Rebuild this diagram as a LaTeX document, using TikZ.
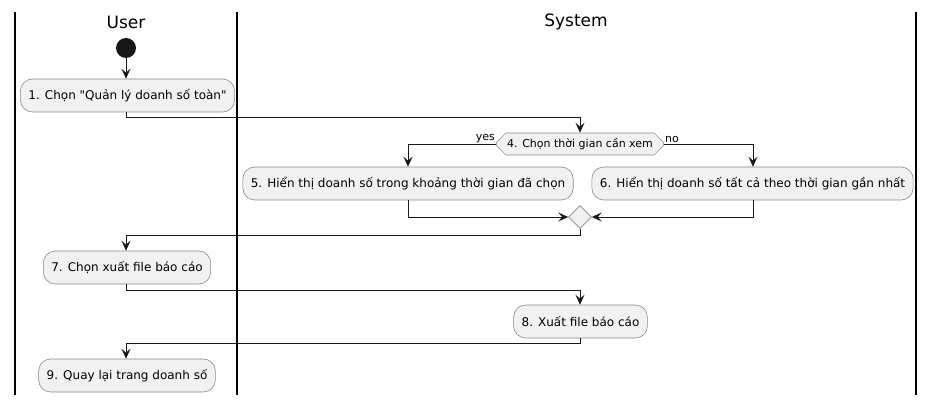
\documentclass[tikz,border=0pt]{standalone}
\usepackage{fontspec}
\setmainfont{DejaVu Sans}
\usetikzlibrary{arrows.meta,shapes.geometric,shapes.misc}
\definecolor{boxfill}{HTML}{F1F1F1}
\definecolor{boxline}{HTML}{888888}
\definecolor{ink}{HTML}{181818}
\begin{document}
\begin{tikzpicture}[x=1pt,y=-1pt,
  act/.style={draw=boxline,fill=boxfill,rounded corners=12pt,minimum height=33pt,inner xsep=8pt,font=\fontsize{12}{14}\selectfont,line width=0.6pt},
  dec/.style={draw=boxline,fill=boxfill,chamfered rectangle,chamfered rectangle xsep=11pt,chamfered rectangle angle=45,minimum height=22pt,inner xsep=5pt,inner ysep=0pt,font=\fontsize{11}{13}\selectfont,line width=0.6pt},
  merge/.style={draw=boxline,fill=boxfill,diamond,minimum width=23pt,minimum height=23pt,inner sep=0pt,line width=0.6pt},
  flow/.style={draw=ink,line width=0.9pt,-{Stealth[length=10pt,width=9pt,inset=4pt]}},
  lane/.style={draw=black,line width=1.4pt},
  lanetitle/.style={font=\fontsize{17}{20}\selectfont},
  lbl/.style={font=\fontsize{11}{13}\selectfont,inner sep=1pt}
]
\useasboundingbox (0,0) rectangle (934,403);
\draw[lane] (15,12) -- (15,395);
\draw[lane] (237,12) -- (237,395);
\draw[lane] (916,12) -- (916,395);
\node[lanetitle] (tuser) at (126,22) {User};
\node[lanetitle] (tsys) at (576,22) {System};

\node[circle,fill=ink,minimum size=20pt,inner sep=0pt] (start) at (126,48) {};
\node[act] (a1) at (127.5,95.5) {1. Chọn \textquotedbl Quản lý doanh số toàn\textquotedbl};
\node[dec] (d4) at (580,144) {4. Chọn thời gian cần xem};
\node[act] (a5) at (408,183.5) {5. Hiển thị doanh số trong khoảng thời gian đã chọn};
\node[act] (a6) at (752.5,183.5) {6. Hiển thị doanh số tất cả theo thời gian gần nhất};
\node[merge] (m) at (580,217) {};
\node[act] (a7) at (127,267.5) {7. Chọn xuất file báo cáo};
\node[act] (a8) at (580.5,321.5) {8. Xuất file báo cáo};
\node[act] (a9) at (127,375.5) {9. Quay lại trang doanh số};

\coordinate (c1) at (126,117);
\coordinate (c2) at (580,117);
\coordinate (c3) at (408,144);
\coordinate (c4) at (753,144);
\coordinate (c5) at (408,217);
\coordinate (c6) at (753,217);
\coordinate (c7) at (580,235);
\coordinate (c8) at (126,235);
\coordinate (c9) at (126,290);
\coordinate (c10) at (580,290);
\coordinate (c11) at (580,343);
\coordinate (c12) at (126,343);

\draw[flow] (start) -- (a1.north -| start);
\draw[flow] (a1.south -| c1) -- (c1) -- (c2) -- (d4.north);
\draw[flow] (d4.west) -- (c3) -- (a5.north -| c3);
\draw[flow] (d4.east) -- (c4) -- (a6.north -| c4);
\node[lbl,anchor=south east] (lyes) at (d4.west) {yes};
\node[lbl,anchor=south west] (lno) at (d4.east) {no};
\draw[flow] (a5.south -| c5) -- (c5) -- (m.west);
\draw[flow] (a6.south -| c6) -- (c6) -- (m.east);
\draw[flow] (m.south) -- (c7) -- (c8) -- (a7.north -| c8);
\draw[flow] (a7.south -| c9) -- (c9) -- (c10) -- (a8.north -| c10);
\draw[flow] (a8.south -| c11) -- (c11) -- (c12) -- (a9.north -| c12);
\end{tikzpicture}
\end{document}
